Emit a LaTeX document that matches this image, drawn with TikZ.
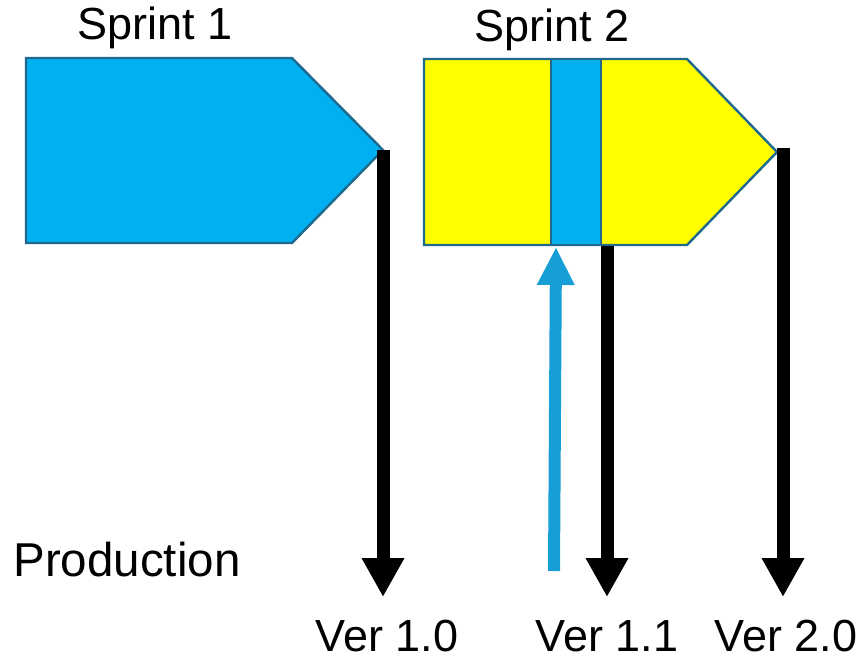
\documentclass[tikz,border=0pt]{standalone}
\usepackage{fontspec}
\setmainfont{Liberation Sans}
\usetikzlibrary{arrows.meta}
\definecolor{skyfill}{RGB}{0,176,240}
\definecolor{yelfill}{RGB}{255,255,0}
\definecolor{edgeblue}{RGB}{31,105,140}
\definecolor{arrblue}{RGB}{22,158,214}
\tikzset{
  shapebox/.style={draw=edgeblue, line width=2.4pt, line join=miter},
  relarrow/.style={line width=13pt, -{Triangle[width=40pt,length=39pt]}},
  hotfix/.style={arrblue, line width=12pt, -{Triangle[width=35pt,length=38pt]}},
  lbl/.style={font=\fontsize{45}{52}\selectfont, inner sep=0pt}
}
\begin{document}
\begin{tikzpicture}[x=1pt,y=-1pt]
\useasboundingbox (0,0) rectangle (864,662);
% Sprint 1
\filldraw[shapebox, fill=skyfill] (26,58) -- (292,58) -- (383,150) coordinate (tipA) -- (292,243) -- (26,243) -- cycle;
% Sprint 2
\filldraw[shapebox, fill=yelfill] (424,59) -- (687,59) -- (777,152) coordinate (tipB) -- (687,245) -- (424,245) -- cycle;
\filldraw[shapebox, fill=skyfill] (551,59) rectangle (601,245);
\coordinate (s2bot) at (607,246);
% labels
\node[lbl] (s1) at (155,28) {Sprint 1};
\node[lbl] (s2) at (552,30) {Sprint 2};
\node[lbl, font=\fontsize{47.5}{54}\selectfont] (prod) at (127,560) {Production};
\node[lbl] (v10) at (387,636) {Ver 1.0};
\node[lbl] (v11) at (607,636) {Ver 1.1};
\node[lbl] (v20) at (786,636) {Ver 2.0};
% arrow ends
\coordinate (startA) at (383,150);
\coordinate (endA) at (383,597);
\coordinate (endB) at (607,597);
\coordinate (startC) at (783,148);
\coordinate (endC) at (783,597);
\coordinate (hfFrom) at (554,571);
\coordinate (hfTo) at (556,247);
\draw[relarrow] (startA) -- (endA);
\draw[relarrow] (s2bot) -- (endB);
\draw[relarrow] (startC) -- (endC);
\draw[hotfix] (hfFrom) -- (hfTo);
\end{tikzpicture}
\end{document}
